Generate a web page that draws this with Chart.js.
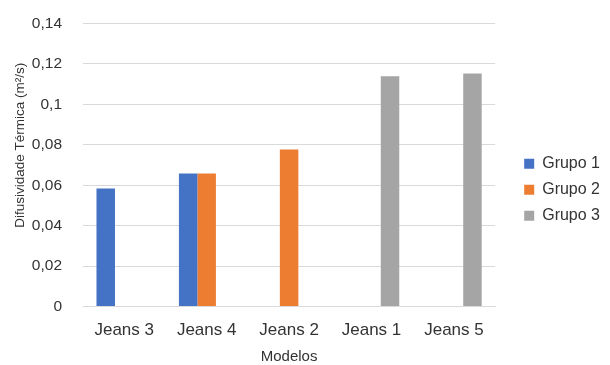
<!DOCTYPE html>
<html>
<head>
<meta charset="utf-8">
<script src="https://cdn.jsdelivr.net/npm/chart.js@4.4.1/dist/chart.umd.min.js"></script>
<style>
  html, body { margin: 0; padding: 0; background: #fff; }
  #wrap { width: 610px; height: 365px; }
</style>
</head>
<body>
<div id="wrap"><canvas id="chartDifusividade"></canvas></div>
<script>
// ─── Dados ─────────────────────────────────────────────────────
const MODELOS = ['Jeans 3', 'Jeans 4', 'Jeans 2', 'Jeans 1', 'Jeans 5'];
const GRUPO_1 = [0.0584, 0.0658, null, null, null];
const GRUPO_2 = [null, 0.0658, 0.0777, null, null];
const GRUPO_3 = [null, null, null, 0.1139, 0.1153];
const Y_MAX  = 0.14;
const Y_STEP = 0.02;

// ─── Paleta ────────────────────────────────────────────────────
const PALETTE = {
  blue:  '#4472c4',
  orange:'#ed7d31',
  gray:  '#a5a5a5',
  grid:  '#d9d9d9',
  text:  '#333333',
};

const FONT = "'Liberation Sans', Arial, sans-serif";
Chart.defaults.font.family = FONT;
Chart.defaults.font.size   = 16;
Chart.defaults.color       = PALETTE.text;

// vírgula decimal nos ticks (0,02 ...)
const fmt = v => String(+v.toFixed(2)).replace('.', ',');

// título vertical do eixo Y, desenhado à mão para poder subir um pouco
const yTitle = {
  id: 'yTitle',
  afterDraw(chart) {
    const { ctx, chartArea } = chart;
    const cy = chartArea.top + (chartArea.bottom - chartArea.top) * 0.43;
    ctx.save();
    ctx.translate(20, cy);
    ctx.rotate(-Math.PI / 2);
    ctx.font = `13.5px ${FONT}`;
    ctx.fillStyle = PALETTE.text;
    ctx.textAlign = 'center';
    ctx.textBaseline = 'middle';
    ctx.fillText('Difusividade Térmica (m²/s)', 0, 0);
    ctx.restore();
  }
};

new Chart(document.getElementById('chartDifusividade'), {
  type: 'bar',
  data: {
    labels: MODELOS,
    datasets: [
      { label: 'Grupo 1', data: GRUPO_1, backgroundColor: PALETTE.blue },
      { label: 'Grupo 2', data: GRUPO_2, backgroundColor: PALETTE.orange },
      { label: 'Grupo 3', data: GRUPO_3, backgroundColor: PALETTE.gray },
    ]
  },
  options: {
    responsive: true,
    maintainAspectRatio: false,
    animation: false,
    datasets: { bar: { barPercentage: 1, categoryPercentage: 0.673 } },
    layout: { padding: { left: 0, top: 5, right: 0, bottom: -2 } },
    plugins: {
      tooltip: { enabled: false },
      legend: {
        position: 'right',
        // título vazio só para descer um pouco os itens
        title: { display: true, text: '', font: { size: 1 }, padding: { top: 0, bottom: 6.3 } },
        labels: { boxWidth: 10, boxHeight: 10, padding: 10, font: { size: 16 } }
      }
    },
    scales: {
      x: {
        grid: { display: false, drawTicks: false },
        border: { color: PALETTE.grid },
        ticks: { padding: 14, font: { size: 17 } },
        title: { display: true, text: 'Modelos', font: { size: 15 }, padding: { top: -7, bottom: 1 } }
      },
      y: {
        min: 0, max: Y_MAX,
        grid: { color: PALETTE.grid, drawTicks: false },
        border: { display: false },
        ticks: { stepSize: Y_STEP, padding: 21, font: { size: 15.5 }, callback: v => fmt(v) },
        // largura fixa e folga de topo própria (o padding dos ticks empurrava a área para baixo)
        afterFit: s => { s.width = 83; s.paddingTop = 23.5; }
      },
      // eixo vazio à direita: só abre espaço entre as barras e a legenda
      folga: {
        position: 'right',
        grid: { display: false },
        border: { display: false },
        ticks: { display: false },
        afterFit: s => { s.width = 19; }
      }
    }
  },
  plugins: [yTitle]
});
</script>
</body>
</html>
